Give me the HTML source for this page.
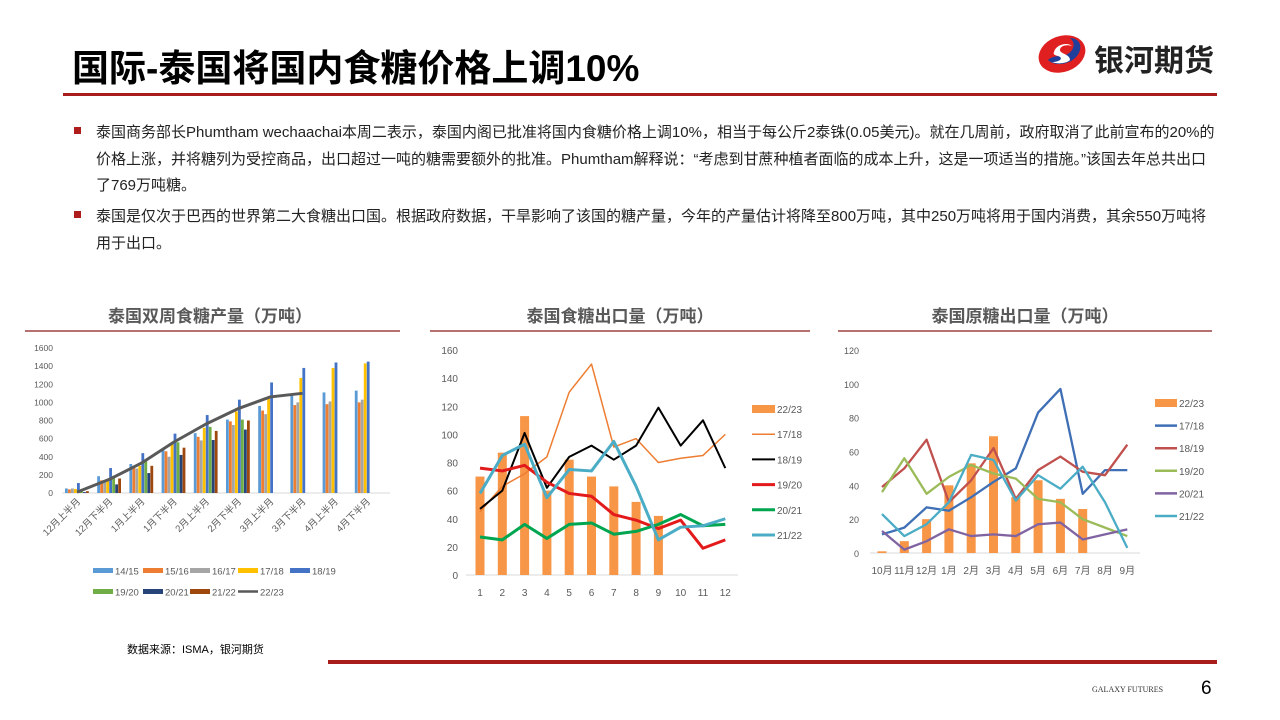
<!DOCTYPE html>
<html><head><meta charset="utf-8">
<style>
body{margin:0;width:1280px;height:720px;background:#fff;position:relative;overflow:hidden;font-family:"Liberation Sans","Noto Sans CJK SC",sans-serif;}
.t{position:absolute;white-space:nowrap;}
</style></head><body>
<div class="t" style="left:72px;top:38px;font-size:37px;font-weight:bold;color:#000;">国际-泰国将国内食糖价格上调10%</div>
<div style="position:absolute;left:63px;top:93px;width:1154px;height:3px;background:#a81c1c"></div>
<svg style="position:absolute;left:1036px;top:34px" width="52" height="40" viewBox="0 0 52 40">
<ellipse cx="26" cy="20" rx="24" ry="18" fill="#e02020" transform="rotate(-20 26 20)"/>
<path d="M12 26 C20 34 40 30 44 16 C46 8 40 4 34 4 C42 10 36 22 24 22 C18 22 14 24 12 26Z" fill="#1f3f9a"/>
<path d="M18 18 C20 10 32 8 36 12 C30 10 24 12 24 16 C24 20 34 20 34 26 C30 30 20 30 16 28 C24 28 28 24 22 22 C18 21 17 20 18 18Z" fill="#fff"/>
</svg>
<div class="t" style="left:1094px;top:36px;font-size:30px;font-weight:bold;color:#222;">银河期货</div>
<div style="position:absolute;left:74px;top:127px;width:7px;height:7px;background:#b01c1c"></div>
<div style="position:absolute;left:74px;top:211px;width:7px;height:7px;background:#b01c1c"></div>
<div class="t" style="left:96px;top:120px;font-size:15px;line-height:26.5px;color:#222;white-space:normal;width:1124px;">泰国商务部长Phumtham wechaachai本周二表示，泰国内阁已批准将国内食糖价格上调10%，相当于每公斤2泰铢(0.05美元)。就在几周前，政府取消了此前宣布的20%的价格上涨，并将糖列为受控商品，出口超过一吨的糖需要额外的批准。Phumtham解释说：“考虑到甘蔗种植者面临的成本上升，这是一项适当的措施。”该国去年总共出口了769万吨糖。</div>
<div class="t" style="left:96px;top:204px;font-size:15px;line-height:26.5px;color:#222;white-space:normal;width:1124px;">泰国是仅次于巴西的世界第二大食糖出口国。根据政府数据，干旱影响了该国的糖产量，今年的产量估计将降至800万吨，其中250万吨将用于国内消费，其余550万吨将用于出口。</div>
<div class="t" style="left:127px;top:641px;font-size:11px;color:#000;">数据来源：ISMA，银河期货</div>
<div style="position:absolute;left:328px;top:660px;width:889px;height:4px;background:#a81c1c"></div>
<div class="t" style="left:1092px;top:685px;font-size:8px;font-family:'Liberation Serif',serif;color:#333;">GALAXY FUTURES</div>
<div class="t" style="left:1201px;top:678px;font-size:19px;color:#000;">6</div>
<svg id="s" style="position:absolute;left:0;top:0" width="1280" height="720"></svg>
<script>
let h='';
const F='font-family="Liberation Sans,Noto Sans CJK SC,sans-serif"';
function txt(x,y,s,sz,col,anc,ex){h+=`<text x="${x}" y="${y}" font-size="${sz}" fill="${col}" text-anchor="${anc||'start'}" ${F} ${ex||''}>${s}</text>`;}
function line(x1,y1,x2,y2,c,w){h+=`<line x1="${x1}" y1="${y1}" x2="${x2}" y2="${y2}" stroke="${c}" stroke-width="${w}"/>`;}
function poly(pts,c,w){h+=`<polyline points="${pts.map(p=>p.join(',')).join(' ')}" fill="none" stroke="${c}" stroke-width="${w}" stroke-linejoin="round"/>`;}
[[210,'泰国双周食糖产量（万吨）',25,400],[620,'泰国食糖出口量（万吨）',430,810],[1025,'泰国原糖出口量（万吨）',838,1212]].forEach(t=>{txt(t[0],322,t[1],17,'#595959','middle','font-weight="bold"');line(t[2],331,t[3],331,'#8b1a1a',1.2);});
{const y0=493,k=145/1600;for(let v=0;v<=1600;v+=200)txt(53,y0-v*k+3,v,8.5,'#595959','end');
line(62,y0,390,y0,'#d9d9d9',1);
const cols=['#5b9bd5','#ed7d31','#a5a5a5','#ffc000','#4472c4','#70ad47','#264478','#9e480e'];
const d=[[50,40,50,45,110,40,10,20],[185,140,120,150,275,190,95,160],[320,280,270,300,440,350,220,300],[490,460,400,540,655,560,420,500],[660,620,580,720,860,730,585,685],[810,790,750,900,1030,810,700,800],[960,910,870,1050,1220],[1080,970,1000,1270,1380],[1110,980,1010,1380,1440],[1130,1000,1030,1430,1450]];
const labs=['12月上半月','12月下半月','1月上半月','1月下半月','2月上半月','2月下半月','3月上半月','3月下半月','4月上半月','4月下半月'];
d.forEach((g,i)=>{const c=77+i*32.2;g.forEach((v,j)=>{h+=`<rect x="${c-12+j*3}" y="${y0-v*k}" width="2.8" height="${v*k}" fill="${cols[j]}"/>`;});
txt(c+4,502,labs[i],9.5,'#595959','end',`transform="rotate(-45 ${c+4} 502)"`);});
const l=[10,150,330,560,760,930,1060,1100];let p='M';l.forEach((v,i)=>{p+=(i?' L':'')+(77+i*32.2)+','+(y0-v*k);});
h+=`<path d="${p}" fill="none" stroke="#595959" stroke-width="3" stroke-linejoin="round"/>`;
const lg=[['14/15',93,571],['15/16',143,571],['16/17',190,571],['17/18',238,571],['18/19',290,571],['19/20',93,592],['20/21',143,592],['21/22',190,592],['22/23',238,592]];
lg.forEach((e,i)=>{if(i<8)h+=`<rect x="${e[1]}" y="${e[2]-3}" width="20" height="5" fill="${cols[i]}"/>`;else line(e[1],e[2]-0.5,e[1]+20,e[2]-0.5,'#595959',2.5);txt(e[1]+22,e[2]+3.5,e[0],9.5,'#595959');});}
{const y0=575,k=225/160,X=i=>480+i*22.3;for(let v=0;v<=160;v+=20)txt(458,y0-v*k+4,v,10,'#595959','end');
line(466,y0,738,y0,'#d9d9d9',1);for(let i=0;i<12;i++)txt(X(i),596,i+1,10,'#595959','middle');
[70,87,113,60,82,70,63,52,42].forEach((v,i)=>h+=`<rect x="${X(i)-4.5}" y="${y0-v*k}" width="9" height="${v*k}" fill="#f79646"/>`);
const s=[[[45,63,72,84,130,150,91,97,80,83,85,100],'#ed7d31',1.5],[[47,60,101,62,84,92,82,92,119,92,110,76],'#000',2],[[76,74,78,66,58,56,43,39,33,39,19,25],'#e31a1c',3],[[27,25,36,26,36,37,29,31,36,43,35,36],'#00a550',3],[[58,85,93,55,75,74,95,63,25,34,35,40],'#4bacc6',3]];
s.forEach(e=>poly(e[0].map((v,i)=>[X(i),y0-v*k]),e[1],e[2]));
['22/23','17/18','18/19','19/20','20/21','21/22'].forEach((n,i)=>{const y=409+i*25.2;if(i==0)h+=`<rect x="752" y="${y-4}" width="23" height="8" fill="#f79646"/>`;else line(752,y,775,y,s[i-1][1],s[i-1][2]);txt(777,y+4,n,10,'#595959');});}
{const y0=553,k=203/120,X=i=>882+i*22.3;for(let v=0;v<=120;v+=20)txt(859,y0-v*k+4,v,9,'#595959','end');
line(870,y0,1140,y0,'#d9d9d9',1);['10月','11月','12月','1月','2月','3月','4月','5月','6月','7月','8月','9月'].forEach((m,i)=>txt(X(i),574,m,10,'#595959','middle'));
[1,7,20,40,53,69,33,43,32,26].forEach((v,i)=>h+=`<rect x="${X(i)-4.5}" y="${y0-v*k}" width="9" height="${v*k}" fill="#f79646"/>`);
const s=[[[11,15,27,25,33,42,50,83,97,35,49,49],'#3f6fb5'],[[39,50,67,30,43,62,32,49,57,48,46,64],'#c0504d'],[[36,56,35,45,52,47,44,32,30,20,15,10],'#9bbb59'],[[13,2,7,14,10,11,10,17,18,8,11,14],'#8064a2'],[[23,10,17,30,58,55,31,46,38,51,30,3],'#4bacc6']];
s.forEach(e=>poly(e[0].map((v,i)=>[X(i),y0-v*k]),e[1],2.3));
['22/23','17/18','18/19','19/20','20/21','21/22'].forEach((n,i)=>{const y=403+i*22.6;if(i==0)h+=`<rect x="1155" y="${y-4}" width="22" height="8" fill="#f79646"/>`;else line(1155,y,1177,y,s[i-1][1],2.5);txt(1179,y+4,n,10,'#595959');});}
document.getElementById('s').innerHTML=h;
</script>
</body></html>
